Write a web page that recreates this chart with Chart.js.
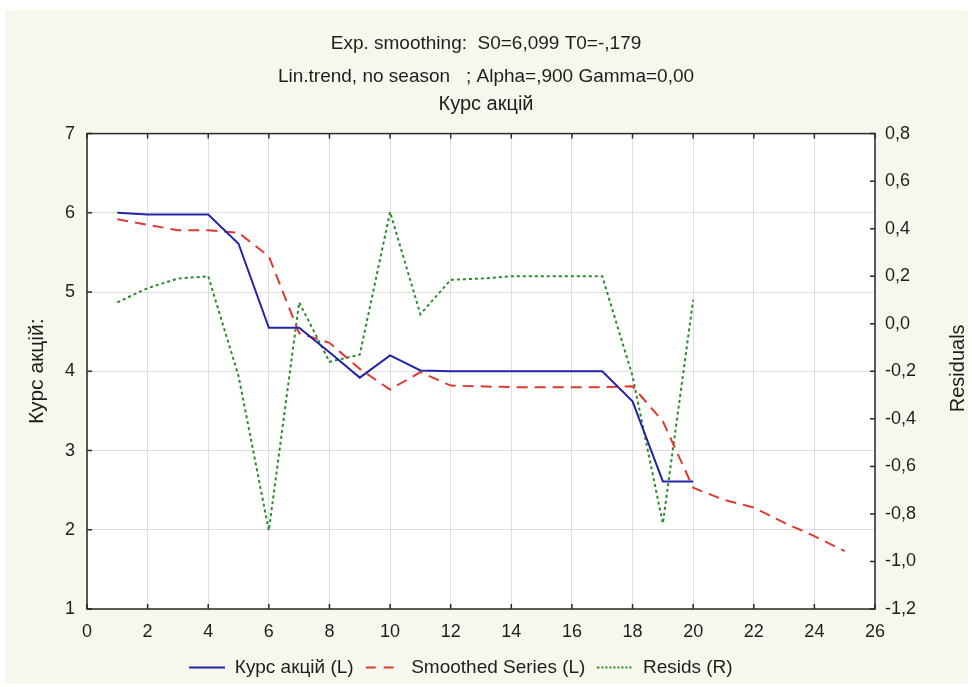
<!DOCTYPE html>
<html>
<head>
<meta charset="utf-8">
<script src="https://cdn.jsdelivr.net/npm/chart.js@4.4.1/dist/chart.umd.min.js"></script>
<style>
  html, body { margin: 0; padding: 0; background: #fff; }
  #wrap { position: relative; width: 972px; height: 687px; }
  #panel { position: absolute; left: 5px; top: 10px; right: 4px; bottom: 3px; background: #f7f7ee; }
  #chart { position: absolute; left: 0; top: 0; }
</style>
</head>
<body>
<div id="wrap">
  <div id="panel"></div>
  <canvas id="chart" width="972" height="687"></canvas>
</div>
<script>
// periods (x axis)
const periods = [1, 2, 3, 4, 5, 6, 7, 8, 9, 10, 11, 12, 13, 14, 15, 16, 17, 18, 19, 20, 21, 22, 23, 24, 25];

// Курс акцій (left axis), periods 1..20
const kurs = [6.00, 5.98, 5.98, 5.98, 5.61, 4.55, 4.55, 4.24, 3.92, 4.20,
              4.01, 4.00, 4.00, 4.00, 4.00, 4.00, 4.00, 3.62, 2.61, 2.61];

// Smoothed series (left axis), periods 1..25 (last 5 = forecast)
const smoothed = [5.92, 5.85, 5.78, 5.78, 5.75, 5.45, 4.48, 4.36, 4.03, 3.77,
                  3.99, 3.82, 3.81, 3.80, 3.80, 3.80, 3.80, 3.81, 3.37, 2.53,
                  2.38, 2.28, 2.09, 1.92, 1.73];

// Residuals (right axis), periods 1..20
const resids = [0.09, 0.15, 0.19, 0.20, -0.22, -0.87, 0.09, -0.16, -0.13, 0.47,
                0.04, 0.185, 0.19, 0.20, 0.20, 0.20, 0.20, -0.22, -0.84, 0.10];

const titleLines = ['Exp. smoothing:  S0=6,099 T0=-,179', 'Lin.trend, no season   ; Alpha=,900 Gamma=0,00'];
const subTitle = 'Курс акцій';
const leftTitle = 'Курс акцій:';
const rightTitle = 'Residuals';

const FONT = 'Liberation Sans, Arial, Helvetica, sans-serif';
const TXT = '#1e1e1e';
const BLUE = '#2424a8';
const RED = '#e03a30';
const GREEN = '#2a8a2a';

function toPoints(values) {
    return values.map((v, i) => ({ x: periods[i], y: v }));
}

// small line sample used as the legend symbol (keeps the dash pattern)
function legendSample(color, dash) {
    const c = document.createElement('canvas');
    c.width = 36;
    c.height = 4;
    const g = c.getContext('2d');
    g.strokeStyle = color;
    g.lineWidth = 2;
    g.setLineDash(dash);
    g.beginPath();
    g.moveTo(0, 2);
    g.lineTo(36, 2);
    g.stroke();
    return c;
}

// white plot area, black frame, inward tick marks, right axis title
const framePlugin = {
    id: 'frame',
    beforeDraw(chart) {
        const { ctx, chartArea: a } = chart;
        ctx.save();
        ctx.fillStyle = '#ffffff';
        ctx.fillRect(a.left, a.top, a.right - a.left, a.bottom - a.top);
        ctx.restore();
    },
    afterDraw(chart) {
        const { ctx, chartArea: a, scales } = chart;
        ctx.save();
        ctx.strokeStyle = '#2a2a2a';
        ctx.lineWidth = 1.5;
        ctx.strokeRect(a.left, a.top, a.right - a.left, a.bottom - a.top);

        ctx.beginPath();
        scales.x.ticks.forEach(t => {
            const px = scales.x.getPixelForValue(t.value);
            ctx.moveTo(px, a.bottom); ctx.lineTo(px, a.bottom - 5);
            ctx.moveTo(px, a.top); ctx.lineTo(px, a.top + 5);
        });
        scales.y.ticks.forEach(t => {
            const py = scales.y.getPixelForValue(t.value);
            ctx.moveTo(a.left, py); ctx.lineTo(a.left + 5, py);
        });
        scales.y1.ticks.forEach(t => {
            const py = scales.y1.getPixelForValue(t.value);
            ctx.moveTo(a.right, py); ctx.lineTo(a.right - 5, py);
        });
        ctx.stroke();

        // right axis title reads bottom-to-top, like the left one
        ctx.translate(958, (a.top + a.bottom) / 2 - 3);
        ctx.rotate(-Math.PI / 2);
        ctx.fillStyle = TXT;
        ctx.font = '20px ' + FONT;
        ctx.textAlign = 'center';
        ctx.textBaseline = 'middle';
        ctx.fillText(rightTitle, 0, 0);
        ctx.restore();
    }
};

// legend in the reference sits a bit left of centre
const legendShift = {
    id: 'legendShift',
    afterLayout(chart) {
        chart.legend.left -= 25;
        chart.legend.right -= 25;
    }
};

const ctx = document.getElementById('chart').getContext('2d');
new Chart(ctx, {
    type: 'line',
    data: {
        datasets: [
            {
                label: 'Курс акцій (L)',
                data: toPoints(kurs),
                borderColor: BLUE,
                backgroundColor: BLUE,
                borderWidth: 2,
                pointStyle: legendSample(BLUE, []),
                yAxisID: 'y'
            },
            {
                label: 'Smoothed Series (L)',
                data: toPoints(smoothed),
                borderColor: RED,
                backgroundColor: RED,
                borderWidth: 2,
                borderDash: [11, 7],
                pointStyle: legendSample(RED, [10, 8]),
                yAxisID: 'y'
            },
            {
                label: 'Resids (R)',
                data: toPoints(resids),
                borderColor: GREEN,
                backgroundColor: GREEN,
                borderWidth: 2,
                borderDash: [3, 3],
                pointStyle: legendSample(GREEN, [2, 2]),
                yAxisID: 'y1'
            }
        ]
    },
    options: {
        responsive: false,
        animation: false,
        devicePixelRatio: 1,
        layout: { padding: { top: 0, left: 0, right: 0, bottom: 0 } },
        elements: {
            point: { radius: 0, hoverRadius: 0 },
            line: { tension: 0 }
        },
        plugins: {
            title: {
                display: true,
                text: titleLines,
                color: TXT,
                font: { family: FONT, size: 19, weight: 'normal', lineHeight: 1.7 },
                padding: { top: 28, bottom: 0 }
            },
            subtitle: {
                display: true,
                text: subTitle,
                color: TXT,
                font: { family: FONT, size: 20, weight: 'normal', lineHeight: 1.2 },
                padding: { top: 0, bottom: 17 }
            },
            legend: {
                position: 'bottom',
                labels: {
                    color: TXT,
                    font: { family: FONT, size: 19 },
                    usePointStyle: true,
                    pointStyleWidth: 36,
                    padding: 12
                }
            },
            tooltip: { enabled: false }
        },
        scales: {
            x: {
                type: 'linear',
                min: 0,
                max: 26,
                ticks: { stepSize: 2, color: TXT, font: { family: FONT, size: 18 }, padding: 12 },
                grid: { color: '#dedede', drawTicks: false },
                border: { display: false },
                afterFit(scale) { scale.height = 37; }
            },
            y: {
                position: 'left',
                min: 1,
                max: 7,
                ticks: { stepSize: 1, color: TXT, font: { family: FONT, size: 18 }, padding: 12 },
                grid: { color: '#dedede', drawTicks: false },
                border: { display: false },
                title: {
                    display: true,
                    text: leftTitle,
                    color: TXT,
                    font: { family: FONT, size: 21 },
                    padding: { top: 25, bottom: 0 }
                },
                afterFit(scale) { scale.width = 87; }
            },
            y1: {
                position: 'right',
                min: -1.2,
                max: 0.8,
                ticks: {
                    stepSize: 0.2,
                    color: TXT,
                    font: { family: FONT, size: 18 },
                    padding: 10,
                    callback: v => (Math.abs(v) < 1e-9 ? 0 : v).toFixed(1).replace('.', ',')
                },
                grid: { display: false, drawTicks: false },
                border: { display: false },
                afterFit(scale) { scale.width = 97; }
            }
        }
    },
    plugins: [framePlugin, legendShift]
});
</script>
</body>
</html>
